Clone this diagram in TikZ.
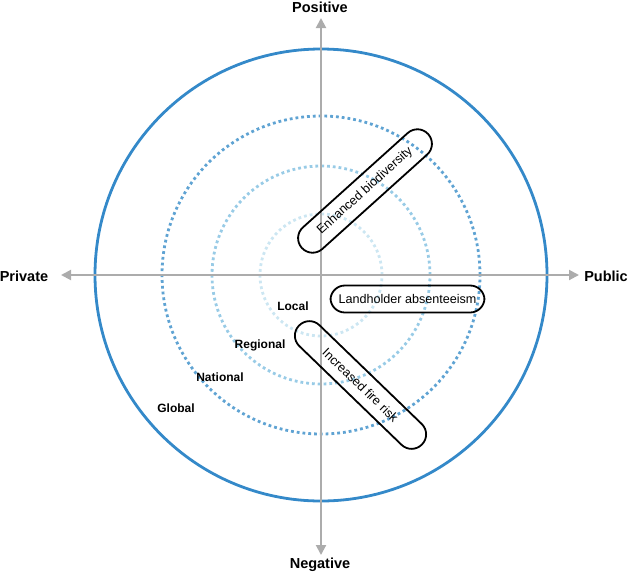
\documentclass[tikz,border=0pt]{standalone}
\usepackage{fontspec}
\setmainfont{Liberation Sans}
\usetikzlibrary{arrows.meta}

\definecolor{axisgray}{RGB}{172,172,172}
\definecolor{globalblue}{RGB}{52,137,201}
\definecolor{nationalblue}{RGB}{95,163,211}
\definecolor{regionalblue}{RGB}{152,203,230}
\definecolor{localblue}{RGB}{204,230,242}

\begin{document}
\begin{tikzpicture}[x=1pt,y=-1pt,
  axisline/.style={draw=axisgray, line width=2pt, -{Triangle[length=10pt,width=10pt]}},
  axislabel/.style={font=\fontsize{14.5}{16}\selectfont\bfseries},
  ring/.style={line width=2.8pt, dash pattern=on 2.8pt off 3pt},
  levellabel/.style={font=\fontsize{12}{14}\selectfont\bfseries},
  pill/.style={draw, line width=1.8pt, rounded corners=14.4pt, minimum height=27pt,
    inner sep=0pt, font=\fontsize{12.6}{14}\selectfont}]
  \useasboundingbox (0,0) rectangle (628,573);

  \coordinate (o) at (321,275);

  % rings
  \draw[globalblue, line width=2.8pt] (o) circle[radius=226pt];
  \draw[ring, nationalblue] (o) circle[radius=159pt];
  \draw[ring, regionalblue] (o) circle[radius=109pt];
  \draw[ring, localblue] (o) circle[radius=61pt];

  % axes
  \coordinate (west) at (61,275);
  \coordinate (east) at (579,275);
  \coordinate (north) at (321,18);
  \coordinate (south) at (321,555);
  \draw[axisline] (o) -- (west);
  \draw[axisline] (o) -- (east);
  \draw[axisline] (o) -- (north);
  \draw[axisline] (o) -- (south);
  \node[axislabel] (private) at (24,276) {Private};
  \node[axislabel] (public) at (606,276) {Public};
  \node[axislabel] (positive) at (320,7) {Positive};
  \node[axislabel] (negative) at (320,565) {Negative};

  % scale labels
  \node[levellabel] (local) at (293,306) {Local};
  \node[levellabel] (regional) at (260,345) {Regional};
  \node[levellabel] (national) at (220,377) {National};
  \node[levellabel] (global) at (176,408) {Global};

  % effects
  \node[pill, minimum width=170pt, minimum height=29pt, rotate=42] (biodiv) at (365,191) {Enhanced biodiversity};
  \node[pill, minimum width=154pt] (absentee) at (407.5,299) {Landholder absenteeism};
  \node[pill, minimum width=171pt, minimum height=29pt, rotate=-44] (fire) at (360.5,385) {Increased fire risk};
\end{tikzpicture}
\end{document}
